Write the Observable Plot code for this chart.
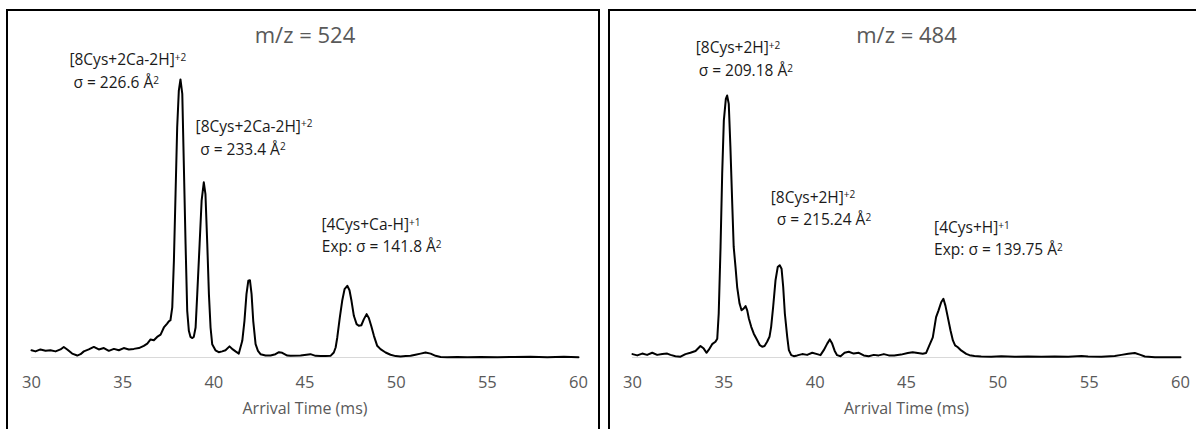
<!DOCTYPE html>
<html><head><meta charset="utf-8">
<script src="https://cdn.jsdelivr.net/npm/d3@7"></script>
<script src="https://cdn.jsdelivr.net/npm/@observablehq/plot@0.6"></script>
<style>
html,body{margin:0;padding:0;background:#fff;overflow:hidden}
#page{position:relative;width:1196px;height:429px;overflow:hidden}
.panel{position:absolute;border:2px solid #000;box-sizing:border-box}
#pl{left:6px;top:9px;width:594px;height:440px}
#pr{left:608px;top:9px;width:600px;height:440px}
.chart{position:absolute}
#cl{left:8px;top:11px}
#cr{left:610px;top:11px}
</style></head>
<body><div id="page"><div class="panel" id="pl"></div><div class="panel" id="pr"></div><div class="chart" id="cl"></div><div class="chart" id="cr"></div></div>
<script>
// ---- data ----
const xTicks = [30, 35, 40, 45, 50, 55, 60];
const axisLabel = "Arrival Time (ms)";

const leftTitle = "m/z = 524";
const leftTime = [30.00,30.22,30.49,30.77,31.04,31.32,31.59,31.77,31.96,32.23,32.51,32.69,32.87,33.14,33.42,33.69,33.97,34.24,34.52,34.79,35.06,35.34,35.61,35.89,36.16,36.35,36.53,36.71,36.89,37.08,37.26,37.44,37.53,37.62,37.72,37.81,37.90,37.99,38.08,38.17,38.27,38.35,38.45,38.54,38.63,38.72,38.82,38.90,39.00,39.09,39.22,39.33,39.45,39.54,39.64,39.73,39.82,39.91,40.09,40.27,40.46,40.64,40.86,41.04,41.19,41.37,41.56,41.68,41.79,41.89,41.98,42.07,42.16,42.29,42.42,42.56,42.84,43.11,43.38,43.57,43.75,44.03,44.21,44.76,45.30,45.58,45.85,46.13,46.40,46.58,46.68,46.77,46.91,47.04,47.17,47.32,47.44,47.55,47.68,47.83,47.95,48.09,48.23,48.38,48.50,48.63,48.78,48.96,49.14,49.42,49.69,49.97,50.24,50.52,50.79,51.06,51.34,51.61,51.89,52.16,52.44,52.80,53.35,53.90,54.63,55.55,56.46,57.37,58.29,59.20,60.00];
const leftIntensity = [2.6,2.2,2.9,2.4,2.6,2.2,2.9,3.8,2.9,1.4,0.7,1.2,2.2,2.9,3.8,2.9,3.4,2.4,3.1,2.6,3.4,2.9,3.1,3.4,4.2,5.0,6.5,6.2,7.4,8.2,10.8,12.2,13.0,13.4,18.0,34.8,58.8,82.8,96.0,100,94.8,70.8,40.8,16.8,9.6,7.4,7.0,7.4,10.8,22.8,40.8,56.4,63.0,58.8,40.8,22.8,10.8,4.8,2.6,1.9,2.2,2.6,4.0,2.9,2.2,1.4,6.0,13.2,22.8,27.6,27.8,22.8,13.2,4.8,2.4,1.2,0.7,0.7,1.2,1.9,1.7,0.7,0.6,0.7,1.2,0.6,0.5,0.5,0.6,1.8,3.6,7.2,14.4,20.4,24.6,25.8,24.2,20.4,15.0,12.0,11.4,11.6,13.8,15.6,14.2,11.4,7.8,4.2,3.0,1.8,1.0,0.5,0.4,0.5,0.6,1.0,1.4,1.8,1.4,0.6,0.2,0.1,0.2,0.1,0.2,0.1,0.2,0.3,0.1,0.3,0.1];
const leftLabelText = ["[8Cys+2Ca-2H]⁺²", "σ = 226.6 Å²", "[8Cys+2Ca-2H]⁺²", "σ = 233.4 Å²", "[4Cys+Ca-H]⁺¹", "Exp: σ = 141.8 Å²"];
const leftLabelTime = [32.08, 32.30, 39.00, 39.25, 45.90, 45.92];
const leftLabelIntensity = [107.0, 98.6, 83.0, 74.8, 47.5, 39.8];

const rightTitle = "m/z = 484";
const rightTime = [30.00,30.26,30.53,30.80,31.08,31.35,31.63,31.90,32.08,32.35,32.63,32.90,33.17,33.45,33.72,33.90,34.05,34.18,34.36,34.54,34.64,34.72,34.82,34.91,35.00,35.11,35.18,35.27,35.36,35.46,35.54,35.64,35.73,35.86,35.97,36.09,36.19,36.28,36.37,36.50,36.64,36.83,36.97,37.10,37.23,37.37,37.50,37.59,37.70,37.83,37.95,38.06,38.16,38.25,38.34,38.47,38.56,38.69,38.83,39.02,39.29,39.56,39.84,40.11,40.29,40.47,40.66,40.80,40.93,41.07,41.20,41.39,41.61,41.84,42.11,42.39,42.66,42.93,43.21,43.48,43.76,44.03,44.33,44.70,45.07,45.34,45.62,45.89,46.07,46.25,46.44,46.62,46.75,46.90,47.02,47.13,47.26,47.41,47.54,47.66,47.81,47.99,48.27,48.45,48.72,49.09,49.64,50.19,50.92,51.65,52.38,53.11,53.85,54.58,54.94,55.67,56.40,56.77,57.14,57.50,57.77,58.05,58.60,59.33,60.00];
const rightIntensity = [1.3,0.8,1.5,1.0,1.8,1.0,1.3,1.5,1.0,0.5,0.3,1.3,1.8,2.5,4.4,3.4,1.8,3.0,5.1,6.0,7.2,16.8,42.2,70.1,90.4,98.7,100,96.8,80.3,58.7,42.2,34.5,26.9,20.6,18.0,18.7,19.6,18.0,14.9,11.7,9.1,6.6,4.7,4.1,4.4,6.0,7.9,11.7,19.3,29.5,34.5,35.2,33.9,26.9,16.8,7.9,2.8,0.9,0.5,0.8,1.3,1.0,1.8,1.3,0.9,2.8,5.3,6.9,5.3,2.5,0.9,0.5,1.8,2.2,1.5,1.8,0.8,0.5,1.0,0.8,1.3,0.8,0.8,1.1,1.7,2.0,1.7,1.4,1.7,4.6,7.7,15.4,17.9,21.1,22.4,19.8,15.4,10.3,6.5,4.6,3.9,2.7,1.4,0.9,0.6,0.4,0.3,0.5,0.3,0.4,0.3,0.4,0.3,0.6,0.4,0.3,0.6,1.0,1.4,1.7,1.1,0.4,0.1,0.1,0.1];
const rightLabelText = ["[8Cys+2H]⁺²", "σ = 209.18 Å²", "[8Cys+2H]⁺²", "σ = 215.24 Å²", "[4Cys+H]⁺¹", "Exp: σ = 139.75 Å²"];
const rightLabelTime = [33.46, 33.62, 37.57, 37.90, 46.51, 46.51];
const rightLabelIntensity = [118.0, 109.2, 61.0, 52.5, 49.3, 40.9];

// ---- drawing ----
const FONT = "'Open Sans', Lato, sans-serif";
const SUP = {"⁺": "+", "²": "2", "¹": "1", "³": "3"};

// render unicode superscript runs as raised, smaller tspans
function superscripts(svg) {
  svg.querySelectorAll("g.annot text").forEach(el => {
    const s = el.textContent;
    if (![...s].some(c => SUP[c])) return;
    el.textContent = "";
    let run = "", sup = false;
    const flush = () => {
      if (!run) return;
      const ts = document.createElementNS("http://www.w3.org/2000/svg", "tspan");
      ts.textContent = run;
      if (sup) { ts.setAttribute("dy", "-0.42em"); ts.setAttribute("font-size", "0.65em"); }
      el.appendChild(ts);
      run = "";
    };
    for (const c of s) {
      const isSup = !!SUP[c];
      if (isSup !== sup) { flush(); sup = isSup; }
      run += isSup ? SUP[c] : c;
    }
    flush();
  });
}

function panel({time, intensity, labelText, labelTime, labelIntensity, title, width, marginLeft, marginRight, marginTop}) {
  const rows = time.map((t, i) => ({t, v: intensity[i]}));
  const labels = labelText.map((s, i) => ({text: s, t: labelTime[i], v: labelIntensity[i]}));
  const height = 418, marginBottom = 72;
  const svg = Plot.plot({
    width, height, marginLeft, marginRight, marginTop, marginBottom,
    style: {fontFamily: FONT, background: "transparent", overflow: "visible"},
    x: {domain: [30, 60]},
    y: {domain: [0, 100], axis: null},
    marks: [
      Plot.ruleY([0], {stroke: "#d9d9d9", strokeWidth: 1.2}),
      Plot.axisX({ticks: xTicks, tickSize: 0, tickPadding: 19, fontSize: 16.5, fill: "#595959", label: null, tickFormat: d => String(d)}),
      Plot.line(rows, {x: "t", y: "v", stroke: "#000", strokeWidth: 2, curve: "linear"}),
      Plot.text(labels, {x: "t", y: "v", text: "text", textAnchor: "start", fontSize: 15.5, fill: "#1a1a1a", className: "annot"}),
      Plot.text([title], {frameAnchor: "top", lineAnchor: "middle", dy: 24 - marginTop, fontSize: 22, fill: "#595959"}),
      Plot.text([axisLabel], {frameAnchor: "bottom", lineAnchor: "middle", dy: 51, fontSize: 16, fill: "#595959"})
    ]
  });
  superscripts(svg);
  return svg;
}

document.getElementById("cl").appendChild(panel({
  time: leftTime, intensity: leftIntensity, labelText: leftLabelText, labelTime: leftLabelTime, labelIntensity: leftLabelIntensity,
  title: leftTitle, width: 590, marginLeft: 23, marginRight: 20, marginTop: 68
}));
document.getElementById("cr").appendChild(panel({
  time: rightTime, intensity: rightIntensity, labelText: rightLabelText, labelTime: rightLabelTime, labelIntensity: rightLabelIntensity,
  title: rightTitle, width: 586, marginLeft: 22, marginRight: 16, marginTop: 84
}));
</script></body></html>
